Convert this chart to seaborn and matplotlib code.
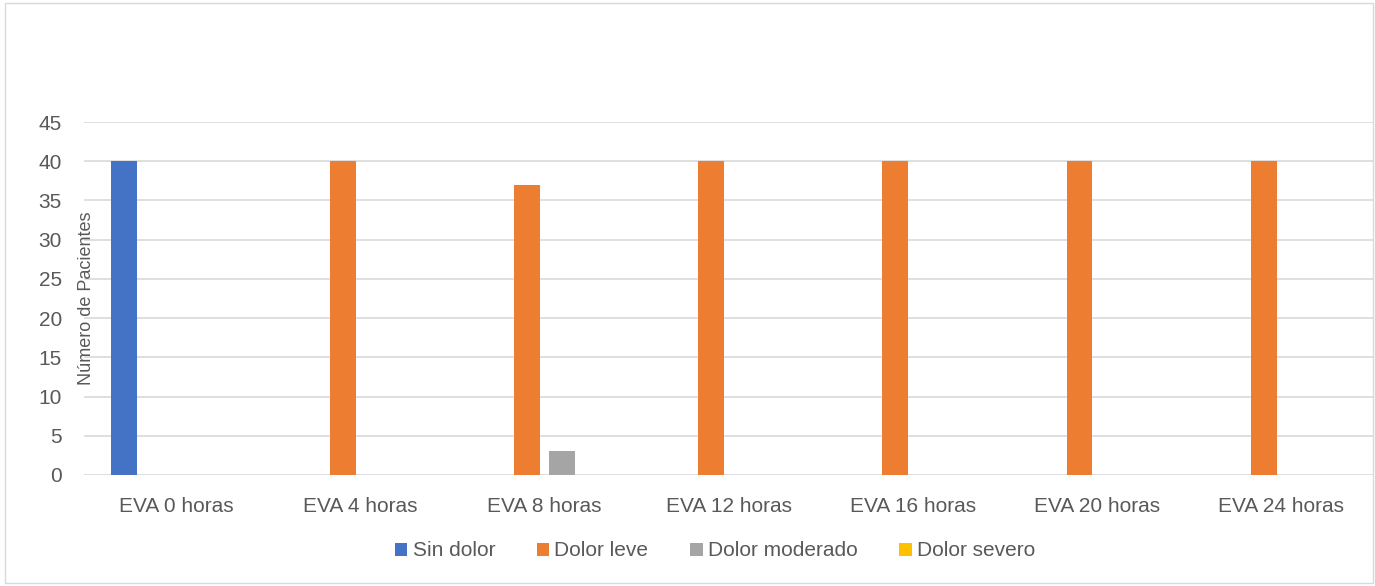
import matplotlib
matplotlib.use("Agg")
import matplotlib.pyplot as plt
import seaborn as sns
import pandas as pd
from matplotlib.patches import Rectangle, Patch

categories = ["EVA 0 horas", "EVA 4 horas", "EVA 8 horas", "EVA 12 horas",
              "EVA 16 horas", "EVA 20 horas", "EVA 24 horas"]
series_names = ["Sin dolor", "Dolor leve", "Dolor moderado", "Dolor severo"]
sin_dolor = [40, 0, 0, 0, 0, 0, 0]
dolor_leve = [0, 40, 37, 40, 40, 40, 40]
dolor_moderado = [0, 0, 3, 0, 0, 0, 0]
dolor_severo = [0, 0, 0, 0, 0, 0, 0]
colors = ["#4472C4", "#ED7D31", "#A5A5A5", "#FFC000"]

rows = []
for name, vals in zip(series_names, [sin_dolor, dolor_leve, dolor_moderado, dolor_severo]):
    for c, v in zip(categories, vals):
        rows.append({"cat": c, "serie": name, "val": v})
df = pd.DataFrame(rows)

sns.set_theme(style="white")
plt.rcParams["font.family"] = ["Liberation Sans", "DejaVu Sans"]

fig = plt.figure(figsize=(13.75, 5.86), dpi=100)
ax = fig.add_axes([84/1375, 1-475/586, 1289/1375, 353/586])

sns.barplot(data=df, x="cat", y="val", hue="serie", order=categories,
            hue_order=series_names, palette=colors, width=0.75, gap=0.25,
            saturation=1, ax=ax, legend=False, errorbar=None, linewidth=0)

ax.set_ylim(0, 45)
ax.set_xlim(-0.5, len(categories) - 0.5)
ax.set_yticks(range(0, 46, 5))
ax.yaxis.grid(True, color="#D9D9D9", linewidth=1.2)
ax.set_axisbelow(True)
for s in ax.spines.values():
    s.set_visible(False)
ax.tick_params(axis="y", length=0, pad=16, labelsize=15, labelcolor="#595959")
ax.tick_params(axis="x", length=0, pad=16, labelsize=15, labelcolor="#595959")
ax.set_xlabel("")
ax.set_ylabel("Número de Pacientes", fontsize=13, color="#595959")
ax.yaxis.set_label_coords(0.002, 0.5)
ax.yaxis.label.set_va("center")

handles = [Patch(facecolor=c, edgecolor="none") for c in colors]
fig.legend(handles, series_names, loc="center", bbox_to_anchor=(715/1375, 1-551/586),
           ncol=4, frameon=False, fontsize=15, handlelength=0.6, handleheight=0.6,
           handletextpad=0.25, columnspacing=2.0, labelcolor="#595959")

fig.patches.append(Rectangle((5/1375, 3/586), 1368/1375, 580/586, transform=fig.transFigure,
                             fill=False, edgecolor="#D9D9D9", linewidth=1))

fig.savefig("out.png", dpi=100)
